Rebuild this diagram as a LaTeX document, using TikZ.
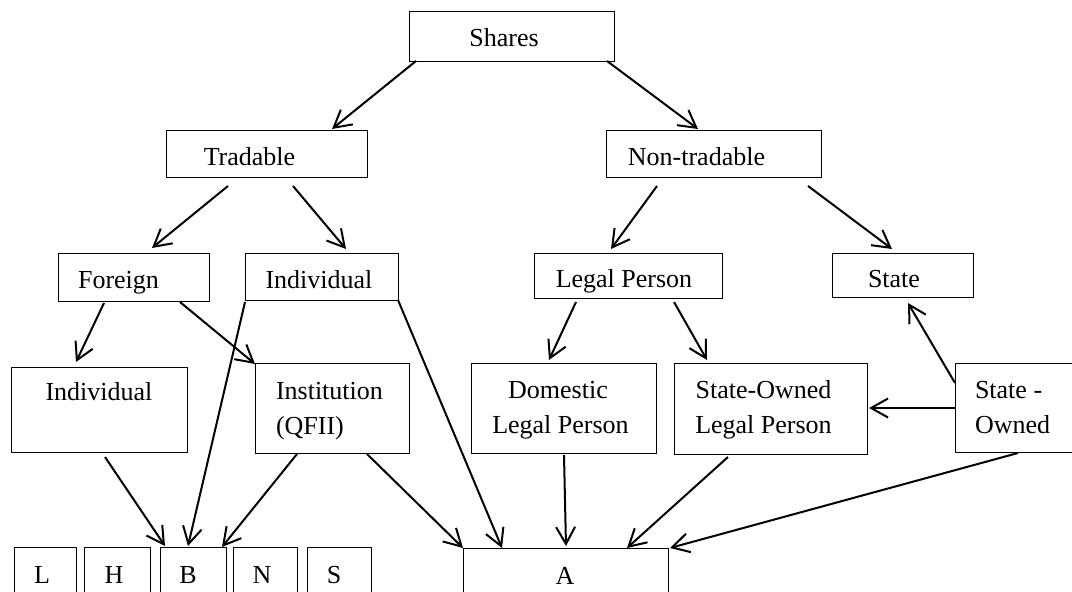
\documentclass[tikz,border=0pt]{standalone}
\usepackage{fontspec}
\setmainfont{Liberation Serif}
\usetikzlibrary{arrows.meta,calc}
\tikzset{
  box/.style={draw, line width=1pt, inner sep=0pt, outer sep=0pt, rectangle},
  txt/.style={inner sep=0pt, outer sep=0pt, font=\fontsize{26}{31}\selectfont},
  arr/.style={line width=2pt, -{Straight Barb[length=17pt,width=19pt,line width=2pt]}}
}
\newcommand{\bx}[6]{\node[box, minimum width=#4pt, minimum height=#5pt] (#1) at (#2,#3) {#6};}
\begin{document}
\begin{tikzpicture}[x=1pt,y=-1pt]
\useasboundingbox (0,0) rectangle (1072,592);
\clip (0,0) rectangle (1072,592);
% boxes
\bx{shares}{511.5}{36}{205}{50}{}
\bx{trad}{266.5}{153.5}{201}{47}{}
\bx{nontrad}{713.5}{153.5}{215}{47}{}
\bx{foreign}{133.5}{277}{151}{48}{}
\bx{indivA}{321.5}{276.5}{153}{47}{}
\bx{legal}{628}{275.5}{188}{45}{}
\bx{state}{902.5}{275}{141}{44}{}
\bx{indivB}{99}{409.5}{176}{85}{}
\bx{inst}{332}{408}{154}{90}{}
\bx{domestic}{563.5}{408}{185}{90}{}
\bx{solp}{770.5}{408.5}{193}{91}{}
\bx{stown}{1017.5}{407.5}{125}{89}{}
\bx{bL}{45}{577}{62}{60}{}
\bx{bH}{117}{577}{66}{60}{}
\bx{bB}{193}{577}{66}{60}{}
\bx{bN}{265}{577}{64}{60}{}
\bx{bS}{339}{577}{64}{60}{}
\bx{bA}{565.5}{578}{205}{60}{}
% texts
\node[txt, anchor=base] (tshares) at (504,46) {Shares};
\node[txt, anchor=base] (ttrad) at (249.5,165) {Tradable};
\node[txt, anchor=base] (tnontrad) at (696.5,165) {Non-tradable};
\node[txt, anchor=base] (tforeign) at (118.5,288) {Foreign};
\node[txt, anchor=base] (tindivA) at (319,288) {Individual};
\node[txt, anchor=base] (tlegal) at (624,287) {Legal Person};
\node[txt, anchor=base] (tstate) at (894,287) {State};
\node[txt, anchor=base] (tindivB) at (99,400) {Individual};
\node[txt, anchor=base west] (tinst1) at (276,399) {Institution};
\node[txt, anchor=base west] (tinst2) at (276,434) {(QFII)};
\node[txt, anchor=base] (tdom1) at (558,398) {Domestic};
\node[txt, anchor=base] (tdom2) at (560.5,433) {Legal Person};
\node[txt, anchor=base] (tsolp1) at (763.5,398) {State-Owned};
\node[txt, anchor=base] (tsolp2) at (763.5,433) {Legal Person};
\node[txt, anchor=base west] (tso1) at (975,398) {State -};
\node[txt, anchor=base west] (tso2) at (975,433) {Owned};
\node[txt, anchor=base] (tL) at (42,583) {L};
\node[txt, anchor=base] (tH) at (114,583) {H};
\node[txt, anchor=base] (tB) at (188,583) {B};
\node[txt, anchor=base] (tN) at (262,583) {N};
\node[txt, anchor=base] (tS) at (334,583) {S};
\node[txt, anchor=base] (tA) at (565,584) {A};
% connectors
\draw[arr] ($(shares.south west)+(7,0)$) -- ($(trad.north west)+(166,-1)$);
\draw[arr] ($(shares.south east)+(-7,0)$) -- ($(nontrad.north west)+(92,-1)$);
\draw[arr] ($(trad.south west)+(62,9)$) -- ($(foreign.north west)+(94,-5)$);
\draw[arr] ($(trad.south west)+(127,9)$) -- ($(indivA.north west)+(101,-4)$);
\draw[arr] ($(nontrad.south west)+(51,9)$) -- ($(legal.north west)+(77,-4)$);
\draw[arr] ($(nontrad.south west)+(202,9)$) -- ($(state.north west)+(60,-4)$);
\draw[arr] ($(foreign.south west)+(46,2)$) -- ($(indivB.north west)+(65,-5)$);
\draw[arr] ($(foreign.south west)+(122,1)$) -- ($(inst.north west)+(0,1)$);
\draw[arr] ($(legal.south west)+(42,4)$) -- ($(domestic.north west)+(78,-3)$);
\draw[arr] ($(legal.south west)+(140,4)$) -- ($(solp.north west)+(33,-3)$);
\draw[arr] ($(stown.north west)+(0,20)$) -- ($(state.south west)+(76,6)$);
\draw[arr] ($(stown.north west)+(0,45)$) -- ($(solp.north east)+(2,45)$);
\draw[arr] ($(indivB.south west)+(94,5)$) -- ($(bB.north west)+(5,-1)$);
\draw[arr] ($(indivA.south west)+(0,2)$) -- ($(bB.north west)+(28,-1)$);
\draw[arr] ($(inst.south west)+(42,1)$) -- ($(bB.north west)+(62,0)$);
\draw[arr] ($(inst.south west)+(112,1)$) -- (bA.north west);
\draw[arr] (indivA.south east) -- ($(bA.north west)+(39,0)$);
\draw[arr] ($(domestic.south west)+(93,2)$) -- ($(bA.north west)+(103,-2)$);
\draw[arr] ($(solp.south west)+(54,3)$) -- ($(bA.north west)+(164,0)$);
\draw[arr] ($(stown.south west)+(63,1)$) -- ($(bA.north east)+(2,0)$);
\end{tikzpicture}
\end{document}
